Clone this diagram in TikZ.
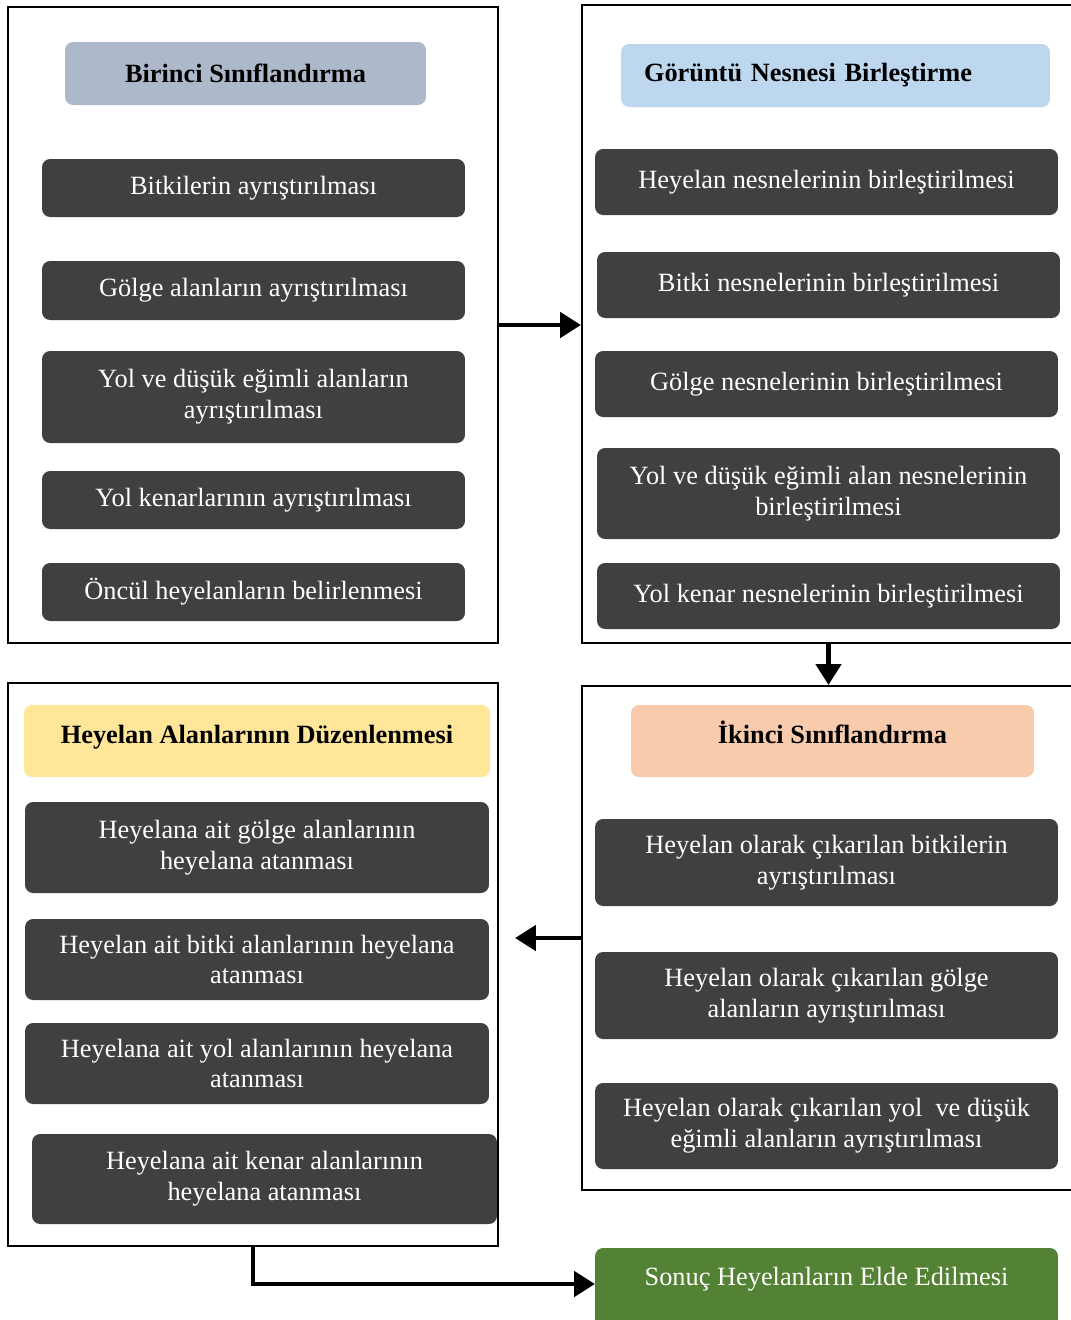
\documentclass[tikz,border=0pt]{standalone}
\usepackage{fontspec}
\setmainfont{Liberation Serif}
\usetikzlibrary{arrows.meta}
\definecolor{stepgray}{HTML}{404040}
\definecolor{blueone}{HTML}{ADB9CA}
\definecolor{bluetwo}{HTML}{BDD7EE}
\definecolor{yellowbox}{HTML}{FFE699}
\definecolor{orangebox}{HTML}{F8CBAD}
\definecolor{greenbox}{HTML}{548235}
\tikzset{
  panel/.style={draw=black, line width=1.2pt, fill=white, inner sep=0pt},
  titlebox/.style={rounded corners=0.16cm, inner sep=0pt, font=\fontsize{15}{17.6}\selectfont\bfseries, text=black},
  stepbox/.style={rounded corners=0.16cm, inner sep=0pt, fill=stepgray, text=white, align=center},
  flow/.style={line width=2.8pt, -{Triangle[length=0.42cm,width=0.5cm]}}
}

\begin{document}
\begin{tikzpicture}[x=0.02cm, y=-0.02cm, font=\fontsize{15}{17.6}\selectfont]
  \useasboundingbox (0,0) rectangle (1071,1320);
  \clip (0,0) rectangle (1071,1320);

  % panels
  \node[panel, minimum width=9.8cm, minimum height=12.72cm] (p1) at (253,325) {};
  \node[panel, minimum width=9.96cm, minimum height=12.76cm] (p2) at (831,324) {};
  \node[panel, minimum width=9.8cm, minimum height=11.26cm] (p3) at (253,964.5) {};
  \node[panel, minimum width=9.96cm, minimum height=10.08cm] (p4) at (831,938) {};

  % Birinci
  \node[titlebox, fill=blueone, minimum width=7.22cm, minimum height=1.26cm] (t1) at (245.5,73.5) {Birinci Sınıflandırma};
  \node[stepbox, minimum width=8.46cm, minimum height=1.16cm] (b1) at (253.5,188) {Bitkilerin ayrıştırılması};
  \node[stepbox, minimum width=8.46cm, minimum height=1.18cm] (b2) at (253.5,290.5) {Gölge alanların ayrıştırılması};
  \node[stepbox, minimum width=8.46cm, minimum height=1.84cm] (b3) at (253.5,397) {Yol ve düşük eğimli alanların\\ayrıştırılması};
  \node[stepbox, minimum width=8.46cm, minimum height=1.16cm] (b4) at (253.5,500) {Yol kenarlarının ayrıştırılması};
  \node[stepbox, minimum width=8.46cm, minimum height=1.16cm] (b5) at (253.5,592) {Öncül heyelanların belirlenmesi};

  % Goruntu nesnesi
  \node[titlebox, fill=bluetwo, minimum width=8.58cm, minimum height=1.26cm, text width=7.66cm, inner xsep=0.46cm, align=left] (t2) at (835.5,75.5) {Görüntü Nesnesi Birleştirme};
  \node[stepbox, minimum width=9.26cm, minimum height=1.32cm] (c1) at (826.5,182) {Heyelan nesnelerinin birleştirilmesi};
  \node[stepbox, minimum width=9.26cm, minimum height=1.32cm] (c2) at (828.5,285) {Bitki nesnelerinin birleştirilmesi};
  \node[stepbox, minimum width=9.26cm, minimum height=1.32cm] (c3) at (826.5,384) {Gölge nesnelerinin birleştirilmesi};
  \node[stepbox, minimum width=9.26cm, minimum height=1.82cm] (c4) at (828.5,493.5) {Yol ve düşük eğimli alan nesnelerinin\\birleştirilmesi};
  \node[stepbox, minimum width=9.26cm, minimum height=1.32cm] (c5) at (828.5,596) {Yol kenar nesnelerinin birleştirilmesi};

  % Duzenleme
  \node[titlebox, fill=yellowbox, minimum width=9.32cm, minimum height=1.44cm, text height=0.4cm, text depth=0.29cm] (t3) at (257,741) {Heyelan Alanlarının Düzenlenmesi};
  \node[stepbox, minimum width=9.28cm, minimum height=1.82cm] (d1) at (257,847.5) {Heyelana ait gölge alanlarının\\heyelana atanması};
  \node[stepbox, minimum width=9.28cm, minimum height=1.62cm] (d2) at (257,959.5) {Heyelan ait bitki alanlarının heyelana\\atanması};
  \node[stepbox, minimum width=9.28cm, minimum height=1.62cm] (d3) at (257,1063.5) {Heyelana ait yol alanlarının heyelana\\atanması};
  \node[stepbox, minimum width=9.3cm, minimum height=1.8cm] (d4) at (264.5,1179) {Heyelana ait kenar alanlarının\\heyelana atanması};

  % Ikinci
  \node[titlebox, fill=orangebox, minimum width=8.06cm, minimum height=1.44cm, text height=0.4cm, text depth=0.29cm] (t4) at (832.5,741) {İkinci Sınıflandırma};
  \node[stepbox, minimum width=9.26cm, minimum height=1.74cm] (e1) at (826.5,862.5) {Heyelan olarak çıkarılan bitkilerin\\ayrıştırılması};
  \node[stepbox, minimum width=9.26cm, minimum height=1.74cm] (e2) at (826.5,995.5) {Heyelan olarak çıkarılan gölge\\alanların ayrıştırılması};
  \node[stepbox, minimum width=9.26cm, minimum height=1.72cm] (e3) at (826.5,1126) {Heyelan olarak çıkarılan yol\ \ ve düşük\\eğimli alanların ayrıştırılması};

  % result, runs past the lower edge
  \node[stepbox, fill=greenbox, minimum width=9.26cm, minimum height=1.84cm, text height=0.4cm, text depth=0.73cm] (r) at (826.5,1294) {Sonuç Heyelanların Elde Edilmesi};

  % arrows
  \coordinate (lt) at (515,938);
  \coordinate (rin) at (595,1284);
  \draw[flow] (p1.east) -- (p1.east -| p2.west);
  \draw[flow] (c5.south |- p2.south) -- (c5.south |- p4.north);
  \draw[flow] (p4.west) -- (lt);
  \draw[flow] (p3.south) |- (rin);
\end{tikzpicture}
\end{document}
